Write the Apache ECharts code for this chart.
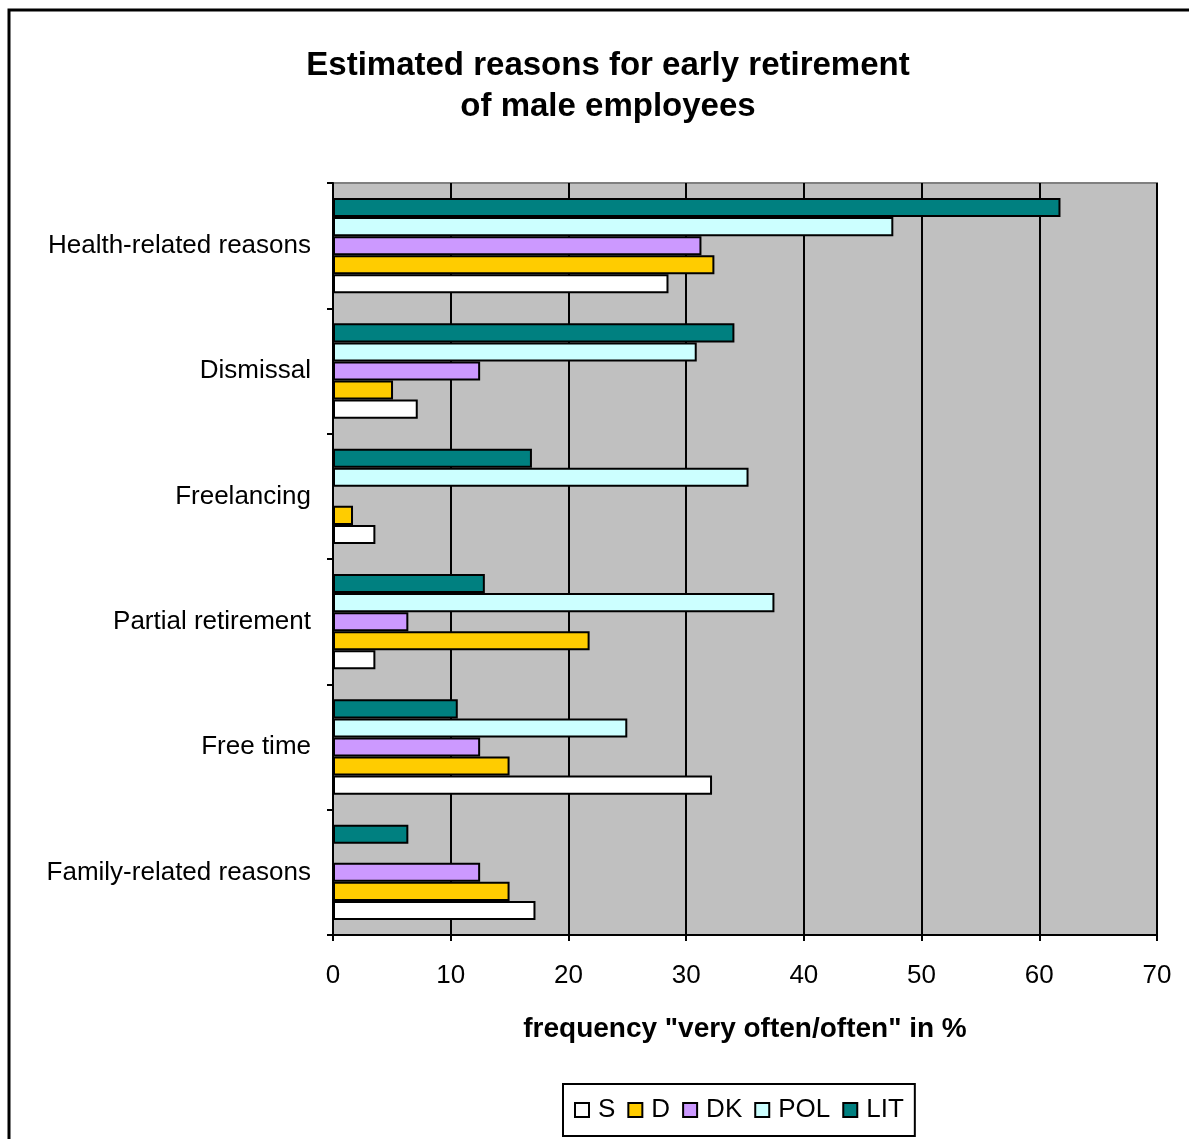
<!DOCTYPE html>
<html>
<head>
<meta charset="utf-8">
<script src="https://cdn.jsdelivr.net/npm/echarts@6/dist/echarts.min.js"></script>
<style>
  html, body { margin: 0; padding: 0; background: #ffffff; }
  #chart { width: 1189px; height: 1139px; }
</style>
</head>
<body>
<div id="chart"></div>
<script>
// Reasons (top to bottom) and per-country frequencies in %
const reasons = ['Health-related reasons', 'Dismissal', 'Freelancing', 'Partial retirement', 'Free time', 'Family-related reasons'];
const countries = ['S', 'D', 'DK', 'POL', 'LIT'];
const valS   = [28.5, 7.2, 3.6, 3.6, 32.2, 17.2];
const valD   = [32.4, 5.1, 1.7, 21.8, 15.0, 15.0];
const valDK  = [31.3, 12.5, 0, 6.4, 12.5, 12.5];
const valPOL = [47.6, 30.9, 35.3, 37.5, 25.0, 0];
const valLIT = [61.8, 34.1, 16.9, 12.9, 10.6, 6.4];
const xTicks = [0, 10, 20, 30, 40, 50, 60, 70];

const colors = { S: '#FFFFFF', D: '#FFCC00', DK: '#CC99FF', POL: '#CCFFFF', LIT: '#008080' };
const values = { S: valS, D: valD, DK: valDK, POL: valPOL, LIT: valLIT };

const FONT = '"Liberation Sans", Arial, sans-serif';

const chart = echarts.init(document.getElementById('chart'), null, { renderer: 'canvas' });

// Series are stacked LIT (top) .. S (bottom) inside each category band
const series = countries.slice().reverse().map(c => ({
  name: c,
  type: 'bar',
  data: values[c].map(v => (v === 0 ? null : v)),
  barCategoryGap: '24%',
  barGap: '0%',
  itemStyle: { color: colors[c], borderColor: '#000000', borderWidth: 2 },
  emphasis: { disabled: true }
}));

chart.setOption({
  animation: false,
  backgroundColor: '#FFFFFF',
  title: {
    text: 'Estimated reasons for early retirement\nof male employees',
    left: 603,
    top: 40,
    textAlign: 'center',
    textStyle: { fontFamily: FONT, fontSize: 33, fontWeight: 'bold', color: '#000000', lineHeight: 41, align: 'center' }
  },
  legend: {
    data: countries,
    top: 1084,
    left: 563,
    orient: 'horizontal',
    itemWidth: 14,
    itemHeight: 14,
    itemGap: 12,
    padding: [13, 11, 13, 11],
    backgroundColor: '#FFFFFF',
    borderColor: '#000000',
    borderWidth: 2,
    borderRadius: 0,
    icon: 'rect',
    itemStyle: { borderColor: '#000000', borderWidth: 2 },
    textStyle: { fontFamily: FONT, fontSize: 26, color: '#000000', padding: [0, 0, 0, 4] }
  },
  grid: {
    left: 333,
    top: 183,
    right: 32,
    bottom: 204,
    show: true,
    backgroundColor: '#C0C0C0',
    borderColor: '#808080',
    borderWidth: 2
  },
  xAxis: {
    type: 'value',
    min: 0,
    max: 70,
    interval: 10,
    name: 'frequency "very often/often" in %',
    nameLocation: 'middle',
    nameGap: 80,
    nameTextStyle: { fontFamily: FONT, fontSize: 28, fontWeight: 'bold', color: '#000000' },
    axisLine: { show: true, lineStyle: { color: '#000000', width: 2 } },
    axisTick: { show: true, length: 6, lineStyle: { color: '#000000', width: 2 } },
    axisLabel: {
      fontFamily: FONT, fontSize: 26, color: '#000000', margin: 28,
      formatter: v => (xTicks.includes(v) ? String(v) : '')
    },
    splitLine: { show: true, lineStyle: { color: '#000000', width: 2 } }
  },
  yAxis: {
    type: 'category',
    data: reasons,
    inverse: true,
    axisLine: { show: true, lineStyle: { color: '#000000', width: 2 } },
    axisTick: { show: true, length: 6, lineStyle: { color: '#000000', width: 2 } },
    axisLabel: { fontFamily: FONT, fontSize: 26, color: '#000000', margin: 22 },
    splitLine: { show: false }
  },
  series: series,
  graphic: [{
    type: 'rect',
    shape: { x: 9, y: 10, width: 1300, height: 1300 },
    style: { fill: 'none', stroke: '#000000', lineWidth: 3 },
    silent: true,
    z: 100
  }]
});
</script>
</body>
</html>
